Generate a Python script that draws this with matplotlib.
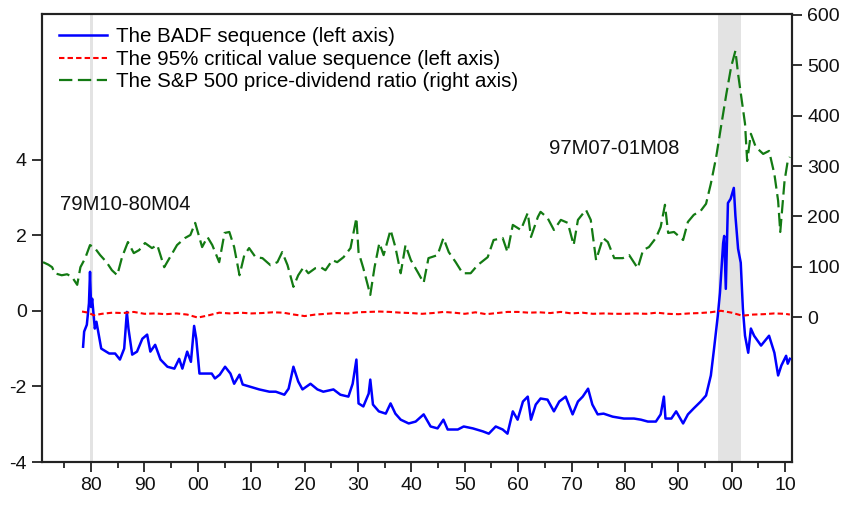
import matplotlib
matplotlib.use("Agg")
import matplotlib.pyplot as plt
from matplotlib.ticker import FixedLocator

plt.rcParams['font.family'] = ['Liberation Sans', 'DejaVu Sans']

# ---- data ----
pd_years = [1871.0, 1872.0, 1872.7, 1873.2, 1874.5, 1875.5, 1876.4, 1877.4, 1878.0, 1878.9,
            1879.8, 1880.7, 1881.7, 1882.9, 1883.9, 1884.9, 1885.8, 1886.9, 1888.0, 1889.0,
            1890.1, 1891.4, 1892.4, 1893.7, 1894.8, 1896.1, 1897.6, 1898.6, 1899.5, 1900.3,
            1900.8, 1901.8, 1902.7, 1904.0, 1905.0, 1905.9, 1906.8, 1907.8, 1908.7, 1909.6,
            1910.8, 1912.1, 1913.6, 1914.9, 1915.8, 1916.8, 1917.9, 1918.8, 1919.8, 1920.7,
            1922.0, 1923.0, 1923.9, 1925.2, 1926.1, 1927.3, 1928.6, 1929.7, 1930.1, 1931.0,
            1932.3, 1933.1, 1934.0, 1934.8, 1936.1, 1937.0, 1938.0, 1938.9, 1939.9, 1941.2,
            1942.3, 1943.2, 1944.9, 1946.0, 1947.0, 1948.3, 1949.6, 1951.1, 1952.4, 1954.3,
            1955.4, 1957.1, 1958.0, 1959.0, 1960.5, 1961.8, 1962.4, 1963.7, 1964.2, 1965.5,
            1966.7, 1968.0, 1969.3, 1970.4, 1971.2, 1972.7, 1973.6, 1974.6, 1975.9, 1976.8,
            1978.0, 1979.6, 1980.8, 1982.4, 1983.4, 1984.5, 1985.8, 1986.7, 1987.5, 1988.1,
            1989.2, 1990.9, 1991.8, 1992.9, 1994.2, 1995.2, 1996.1, 1997.1, 1998.0, 1999.0,
            1999.9, 2000.7, 2001.2, 2001.9, 2002.5, 2002.9, 2003.6, 2004.5, 2005.9, 2007.0,
            2008.0, 2008.7, 2009.1, 2009.9, 2010.5, 2010.9]
pd_values = [109, 104, 99, 87, 83, 85, 80, 64, 99, 117,
             143, 137, 123, 109, 93, 83, 119, 149, 127, 133,
             147, 137, 143, 99, 119, 143, 157, 163, 187, 157,
             139, 159, 143, 109, 167, 169, 139, 83, 123, 137,
             119, 117, 103, 109, 129, 103, 60, 83, 99, 87,
             97, 99, 93, 113, 109, 119, 137, 197, 129, 97,
             44, 99, 147, 123, 173, 139, 87, 143, 113, 89,
             68, 117, 123, 157, 129, 109, 87, 87, 103, 119,
             153, 157, 129, 183, 173, 207, 159, 199, 209, 197,
             173, 193, 187, 143, 193, 213, 193, 113, 157, 149,
             117, 117, 123, 97, 133, 139, 157, 179, 223, 167,
             169, 153, 189, 203, 211, 225, 265, 318, 378, 443,
             497, 529, 483, 429, 384, 310, 364, 338, 324, 330,
             284, 231, 169, 270, 310, 318]

badf_years = [1878.5, 1878.7, 1879.2, 1879.6, 1879.8, 1880.0, 1880.2, 1880.7, 1881.0, 1881.9,
              1883.4, 1884.5, 1885.4, 1886.2, 1886.7, 1887.0, 1887.7, 1888.6, 1889.6, 1890.5,
              1891.1, 1892.0, 1893.0, 1894.3, 1895.6, 1896.5, 1897.1, 1898.0, 1898.7, 1899.3,
              1899.7, 1900.3, 1901.4, 1902.6, 1903.2, 1904.1, 1905.1, 1906.1, 1906.8, 1907.8,
              1908.4, 1909.6, 1911.5, 1913.4, 1914.6, 1916.2, 1917.0, 1917.9, 1918.8, 1919.6,
              1921.1, 1922.4, 1923.5, 1925.4, 1926.7, 1928.2, 1929.0, 1929.7, 1930.1, 1931.0,
              1932.0, 1932.3, 1932.8, 1933.9, 1935.2, 1936.1, 1937.0, 1938.0, 1939.5, 1940.8,
              1942.3, 1943.6, 1944.9, 1946.0, 1946.8, 1948.7, 1949.8, 1951.5, 1953.4, 1954.5,
              1955.8, 1957.1, 1958.0, 1959.0, 1959.9, 1960.9, 1961.8, 1962.4, 1963.3, 1964.2,
              1965.5, 1966.7, 1967.7, 1968.9, 1970.2, 1971.2, 1972.1, 1973.1, 1973.9, 1974.9,
              1976.0, 1977.7, 1979.8, 1981.7, 1983.0, 1984.3, 1985.8, 1986.7, 1987.3, 1987.6,
              1988.7, 1989.6, 1990.9, 1991.8, 1992.9, 1994.2, 1995.2, 1996.1, 1996.7, 1997.4,
              1997.8, 1998.4, 1998.6, 1998.9, 1999.3, 1999.8, 2000.4, 2000.7, 2001.2, 2001.7,
              2002.1, 2002.5, 2003.1, 2003.6, 2004.2, 2005.5, 2007.0, 2008.0, 2008.7, 2009.3,
              2010.2, 2010.5, 2010.9]
badf_values = [-0.95, -0.55, -0.37, 0.20, 1.03, 0.10, 0.32, -0.47, -0.29, -1.00,
               -1.13, -1.13, -1.29, -1.00, -0.03, -0.47, -1.16, -1.08, -0.74, -0.63,
               -1.08, -0.90, -1.29, -1.48, -1.53, -1.27, -1.53, -1.08, -1.35, -0.40,
               -0.74, -1.66, -1.66, -1.66, -1.79, -1.69, -1.48, -1.66, -1.93, -1.69,
               -1.95, -2.00, -2.08, -2.14, -2.14, -2.22, -2.06, -1.48, -1.87, -2.08,
               -1.93, -2.08, -2.14, -2.08, -2.22, -2.27, -1.93, -1.29, -2.45, -2.53,
               -2.19, -1.82, -2.48, -2.66, -2.72, -2.45, -2.72, -2.88, -2.98, -2.93,
               -2.74, -3.06, -3.11, -2.88, -3.14, -3.14, -3.06, -3.11, -3.19, -3.25,
               -3.06, -3.14, -3.25, -2.66, -2.88, -2.40, -2.27, -2.88, -2.48, -2.32,
               -2.35, -2.66, -2.40, -2.27, -2.74, -2.40, -2.27, -2.06, -2.48, -2.74,
               -2.72, -2.80, -2.85, -2.85, -2.88, -2.93, -2.93, -2.74, -2.27, -2.85,
               -2.85, -2.66, -2.98, -2.74, -2.58, -2.40, -2.24, -1.71, -1.00, -0.13,
               0.47, 1.79, 1.98, 0.58, 2.85, 2.96, 3.25, 2.51, 1.64, 1.27,
               0.05, -0.66, -1.11, -0.47, -0.66, -0.92, -0.66, -1.11, -1.71, -1.45,
               -1.19, -1.40, -1.27]

cv_years = [1878.3, 1879.5, 1880.5, 1882, 1884, 1886, 1888, 1890, 1892, 1894, 1896, 1898,
            1900, 1902, 1904, 1906, 1908, 1910, 1912, 1914, 1916, 1918, 1920, 1922, 1924,
            1926, 1928, 1930, 1932, 1934, 1936, 1938, 1940, 1942, 1944, 1946, 1948, 1950,
            1952, 1954, 1956, 1958, 1960, 1962, 1964, 1966, 1968, 1970, 1972, 1974, 1976,
            1978, 1980, 1982, 1984, 1986, 1988, 1990, 1992, 1994, 1996, 1998, 2000, 2002,
            2004, 2006, 2008, 2010, 2010.9]
cv_values = [-0.02, -0.05, -0.12, -0.08, -0.05, -0.06, -0.03, -0.08, -0.07, -0.09, -0.07, -0.10,
             -0.18, -0.12, -0.05, -0.07, -0.05, -0.07, -0.06, -0.04, -0.05, -0.10, -0.14, -0.10, -0.08,
             -0.06, -0.07, -0.04, -0.03, -0.02, -0.03, -0.05, -0.06, -0.08, -0.06, -0.03, -0.05, -0.08,
             -0.04, -0.09, -0.06, -0.03, -0.03, -0.05, -0.04, -0.06, -0.03, -0.07, -0.05, -0.08, -0.07,
             -0.08, -0.08, -0.07, -0.08, -0.05, -0.08, -0.09, -0.07, -0.06, -0.04, 0.00, -0.05, -0.13,
             -0.10, -0.09, -0.07, -0.08, -0.10]

bubble_periods = [(1879 + 9 / 12, 1880 + 4 / 12), (1997 + 6 / 12, 2001 + 8 / 12)]
bubble_labels = ["79M10-80M04", "97M07-01M08"]

xtick_years = list(range(1880, 2011, 10))
xtick_labels = ["%02d" % (y % 100) for y in xtick_years]
left_ticks = [-4, -2, 0, 2, 4]
right_ticks = [0, 100, 200, 300, 400, 500, 600]

legend_labels = ["The BADF sequence (left axis)",
                 "The 95% critical value sequence (left axis)",
                 "The S&P 500 price-dividend ratio (right axis)"]

# ---- figure ----
fig = plt.figure(figsize=(8.43, 5.05), dpi=100)
ax = fig.add_axes([0.0498, 0.0851, 0.8897, 0.8872])
ax2 = ax.twinx()

for (a, b) in bubble_periods:
    ax2.axvspan(a, b, color='#e3e3e3', lw=0, zorder=0)

l2, = ax2.plot(pd_years, pd_values, color='#137a13', lw=1.6, dashes=(6, 2.5), zorder=3)
l1, = ax.plot(badf_years, badf_values, color='#0000ff', lw=1.8, zorder=4)
lc, = ax.plot(cv_years, cv_values, color='#ff0000', lw=1.5, dashes=(2.6, 1.5), zorder=4)
ax.set_zorder(ax2.get_zorder() + 1)
ax.patch.set_visible(False)

ax.set_xlim(1870.8, 2011.3)
ax.set_ylim(-4, 7.85)
ax2.set_ylim(-288, 602)

ax.set_xticks(xtick_years)
ax.set_xticklabels(xtick_labels)
ax.xaxis.set_minor_locator(FixedLocator([y + 5 for y in range(1870, 2010, 10)]))
ax.set_yticks(left_ticks)
ax.set_yticklabels([str(t) for t in left_ticks])
ax2.set_yticks(right_ticks)
ax2.set_yticklabels([str(t) for t in right_ticks])

for a in (ax, ax2):
    for s in a.spines.values():
        s.set_linewidth(1.5)
        s.set_color('#222222')
ax.tick_params(axis='both', which='major', direction='out', length=7, width=1.3,
               labelsize=14, colors='#222222', labelcolor='#111111', pad=4)
ax.tick_params(axis='x', which='minor', direction='out', length=4, width=1.3, colors='#222222')
ax2.tick_params(axis='y', which='major', direction='out', length=7, width=1.3,
                labelsize=14, colors='#222222', labelcolor='#111111', pad=4)

ax.text(1874.2, 2.82, bubble_labels[0], fontsize=14.6, ha='left', va='center', color='#111111')
ax.text(1965.7, 4.30, bubble_labels[1], fontsize=14.6, ha='left', va='center', color='#111111')

leg = ax.legend([l1, lc, l2], legend_labels, loc='upper left',
                bbox_to_anchor=(59 / 843, 1 - 27 / 505), bbox_transform=fig.transFigure,
                frameon=False, fontsize=14.8, handlelength=2.33, handletextpad=0.44,
                labelspacing=0.18, borderpad=0, borderaxespad=0)

fig.savefig("out.png", dpi=100)
